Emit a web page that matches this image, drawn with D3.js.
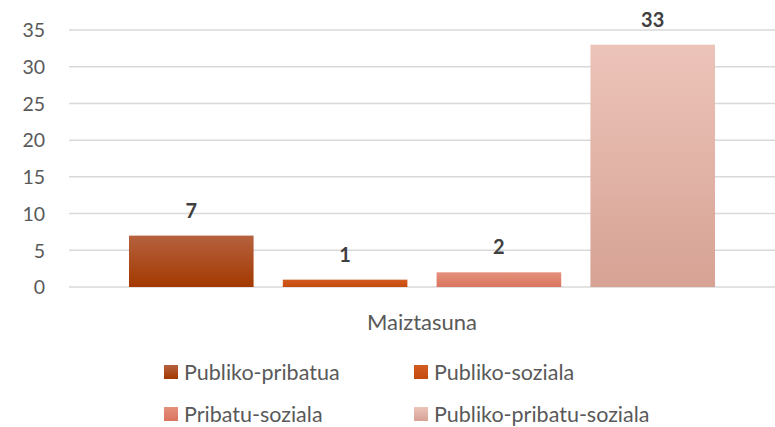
<!DOCTYPE html>
<html>
<head>
<meta charset="utf-8">
<script src="https://cdn.jsdelivr.net/npm/d3@7"></script>
<style>
  body { margin: 0; background: #fff; }
  svg { display: block; font-family: Lato, "Liberation Sans", sans-serif; }
</style>
</head>
<body>
<svg width="775" height="427"></svg>
<script>
// data
const categories = ['Maiztasuna'];
const series = ['Publiko-pribatua', 'Publiko-soziala', 'Pribatu-soziala', 'Publiko-pribatu-soziala'];
const values = [7, 1, 2, 33];
const yTicks = [0, 5, 10, 15, 20, 25, 30, 35];

// gradient stops per series (top, bottom)
const colorsTop = ['#b6613f', '#d35c22', '#e4917c', '#edc4ba'];
const colorsBottom = ['#a33900', '#c64a0c', '#da745f', '#d6a294'];

const svg = d3.select('svg');
const plot = { left: 69, right: 775, top: 30, bottom: 287 };

const defs = svg.append('defs');
series.forEach((s, i) => {
    const g = defs.append('linearGradient')
        .attr('id', 'grad' + i)
        .attr('x1', 0).attr('y1', 0).attr('x2', 0).attr('y2', 1);
    g.append('stop').attr('offset', '0%').attr('stop-color', colorsTop[i]);
    g.append('stop').attr('offset', '100%').attr('stop-color', colorsBottom[i]);
});

const yScale = d3.scaleLinear().domain([0, 35]).range([plot.bottom, plot.top]);

const x0 = d3.scaleBand().domain(categories).range([plot.left, plot.right]);
const x1 = d3.scaleBand().domain(series)
    .range([0, x0.bandwidth()])
    .paddingInner(0.19)
    .paddingOuter(0.39);

// gridlines
svg.append('g')
    .selectAll('line')
    .data(yTicks)
    .enter()
    .append('line')
    .attr('x1', plot.left)
    .attr('x2', plot.right)
    .attr('y1', d => yScale(d))
    .attr('y2', d => yScale(d))
    .attr('stroke', '#d9d9d9')
    .attr('stroke-width', 1.5);

// y axis labels
const yAxis = svg.append('g')
    .attr('transform', `translate(${plot.left - 24},0)`)
    .call(d3.axisLeft(yScale).tickValues(yTicks).tickSize(0).tickPadding(0));
yAxis.select('.domain').remove();
yAxis.selectAll('text')
    .attr('fill', '#595959')
    .style('font-size', '19.5px')
    .style('font-family', 'Lato, sans-serif')
    .attr('dy', '0.35em');

// bars
const rows = series.map((s, i) => ({ series: s, value: values[i], idx: i, cat: categories[0] }));

const barG = svg.append('g');
barG.selectAll('rect')
    .data(rows)
    .enter()
    .append('rect')
    .attr('x', d => x0(d.cat) + x1(d.series))
    .attr('y', d => yScale(d.value))
    .attr('width', x1.bandwidth())
    .attr('height', d => yScale(0) - yScale(d.value))
    .attr('fill', d => `url(#grad${d.idx})`);

// data labels
barG.selectAll('text')
    .data(rows)
    .enter()
    .append('text')
    .attr('x', d => x0(d.cat) + x1(d.series) + x1.bandwidth() / 2)
    .attr('y', d => yScale(d.value) - 18)
    .attr('text-anchor', 'middle')
    .attr('fill', '#404040')
    .style('font-size', '20px')
    .style('font-weight', 'bold')
    .text(d => d.value);

// category label
svg.append('text')
    .attr('x', x0(categories[0]) + x0.bandwidth() / 2)
    .attr('y', 330)
    .attr('text-anchor', 'middle')
    .attr('fill', '#595959')
    .style('font-size', '22px')
    .text(categories[0]);

// legend
const legendPos = [[164, 365], [414, 365], [164, 407], [414, 407]];
const legend = svg.append('g')
    .selectAll('g')
    .data(series)
    .enter()
    .append('g')
    .attr('transform', (d, i) => `translate(${legendPos[i][0]},${legendPos[i][1]})`);

legend.append('rect')
    .attr('x', 0)
    .attr('y', 0)
    .attr('width', 14)
    .attr('height', 14)
    .attr('fill', (d, i) => `url(#grad${i})`);

legend.append('text')
    .attr('x', 20)
    .attr('y', 14.5)
    .attr('fill', '#595959')
    .style('font-size', '21.5px')
    .text(d => d);
</script>
</body>
</html>
